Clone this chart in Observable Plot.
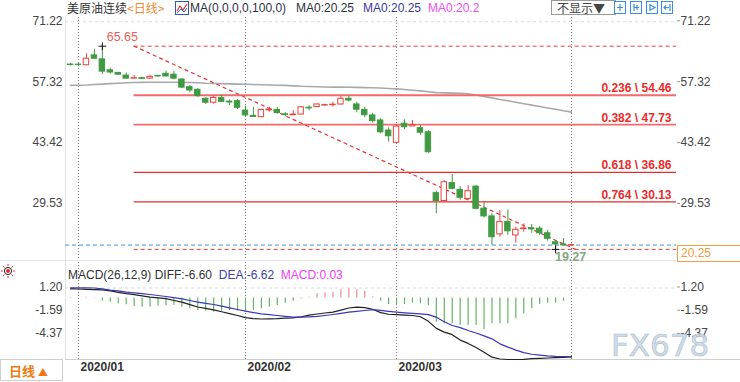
<!DOCTYPE html>
<html><head><meta charset="utf-8">
<script src="https://cdn.jsdelivr.net/npm/d3@7"></script>
<script src="https://cdn.jsdelivr.net/npm/@observablehq/plot@0.6"></script>
<style>
body{margin:0;background:#fff;}
#wrap{position:relative;width:740px;height:382px;overflow:hidden;font-family:"Liberation Sans",Arial,"Noto Sans CJK SC",sans-serif;color:#333;}
#wrap svg.plot{position:absolute;left:0;}
.t{position:absolute;font-size:12px;white-space:nowrap;line-height:14px;top:1px;}
.ln{position:absolute;background:#d8d8d8;}
</style></head><body><div id="wrap">
<span class="t" style="left:67px;font-family:'Noto Sans CJK SC';color:#333">美原油连续</span>
<span class="t" style="left:127px;font-family:'Noto Sans CJK SC';color:#f08a2c">&lt;日线&gt;</span>
<svg style="position:absolute;left:175px;top:1px" width="14" height="14"><rect x="0.5" y="0.5" width="13" height="13" fill="#fff" stroke="#3355aa"/><polyline points="2,10 5,5 8,9 12,3" fill="none" stroke="#d33" stroke-width="1.2"/><polyline points="2,12 6,8 9,11 12,7" fill="none" stroke="#36c" stroke-width="1"/></svg>
<span class="t" style="left:190px;color:#2f2f3f">MA(0,0,0,0,100,0)</span>
<span class="t" style="left:296px;color:#2f2f3f">MA0:20.25</span>
<span class="t" style="left:363px;color:#3a3a9a">MA0:20.25</span>
<span class="t" style="left:428px;color:#f050f0">MA0:20.2</span>
<div style="position:absolute;left:551px;top:0px;width:58px;height:13px;border:1px solid #999;font-size:12px;line-height:13px;font-family:'Noto Sans CJK SC';color:#444;padding-left:5px;box-sizing:content-box">不显示▼</div>
<svg style="position:absolute;left:613px;top:1px" width="63" height="14">
 <g fill="#fff" stroke="#3a8ee6"><rect x="1.5" y="0.5" width="11" height="12"/><rect x="17.5" y="0.5" width="11" height="12"/><rect x="33.5" y="0.5" width="11" height="12"/><rect x="48.5" y="0.5" width="11" height="12"/></g>
 <g stroke="#3a8ee6" stroke-width="1.2" fill="none"><path d="M7 3v7M4 6.5h6"/><path d="M21 3v7M21 6.5h5M24 4v5"/><path d="M37 3v7M37 4l5 2.5l-5 2.5"/><path d="M57 3v7M51 6.5h5M53 4.5l-2 2l2 2"/></g>
</svg>
<div class="ln" style="left:65px;top:17px;width:1px;height:342px;background:#e2e2e2"></div>
<div class="ln" style="left:0px;top:260px;width:676px;height:1px;background:#e4e4e4"></div>
<div class="ln" style="left:65px;top:359px;width:675px;height:1px;background:#cfcfcf"></div>
<svg style="position:absolute;left:1px;top:264px" width="16" height="14"><g stroke="#e33" stroke-width="1"><path d="M7 0v2M7 12v2M0 7h2M12 7h2M2 2l1.5 1.5M12 2l-1.5 1.5M2 12l1.5-1.5M12 12l-1.5-1.5"/></g><circle cx="7" cy="7" r="3.6" fill="#fff" stroke="#222"/><circle cx="7" cy="7" r="2" fill="#e22"/></svg>
<div style="position:absolute;left:0;top:359px;width:63px;height:22px;border:1px solid #cfcfcf;font-family:'Noto Sans CJK SC';font-size:13px;line-height:21px;color:#f07a10;padding-left:8px;box-sizing:border-box;font-weight:bold">日线 <span style="font-size:10px">▲</span></div>
<div id="c"></div>
<div style="position:absolute;left:677px;top:245px;width:63px;height:17px;border:1px solid #f5a040;border-right:none;box-sizing:border-box;font-size:12px;line-height:15px;color:#f39a3c;padding-left:3px;background:#fff">20.25</div>
<div style="position:absolute;left:611px;top:325px;font-family:'DejaVu Sans';font-size:31px;letter-spacing:0px;color:rgba(200,215,232,0.9);-webkit-text-stroke:0.6px #aebdce;line-height:40px">FX678</div>
</div>
<script>
// ---------- data ----------
const monthIdx = [1, 22, 41, 63];
const monthLabels = ["2020/01", "2020/02", "2020/03"];
const priceTicks = [71.22, 57.32, 43.42, 29.53];
const macdTicks = [1.20, -1.59, -4.37];
const open  = [61.45,61.45,61.3,63.55,62.65,60.15,59.55,58.95,58.25,58.35,58.25,58.85,59.35,59.15,58.05,56.3,55.7,53.65,52.75,53.8,53.0,53.1,50.95,49.75,49.45,51.0,51.1,50.1,49.9,50.05,51.6,51.75,52.1,52.2,52.35,53.65,52.35,51.1,49.85,48.7,46.4,43.6,47.95,47.35,46.95,46.0,32.1,30.3,34.4,32.85,30.8,33.6,28.55,26.8,22.7,25.5,22.45,23.9,24.1,24.0,22.95,20.9,20.4,20.15];
const high  = [61.75,61.7,63.9,64.95,65.65,60.65,59.7,59.55,58.95,58.6,59.05,59.05,59.95,59.95,58.2,56.7,55.95,53.9,54.25,54.55,53.4,53.5,51.95,51.7,51.3,51.75,51.65,50.5,50.95,51.9,52.1,52.5,52.4,52.85,54.15,54.15,52.85,51.7,50.35,49.1,47.0,47.75,48.85,48.7,47.55,46.4,32.55,35.0,36.35,33.6,33.85,33.85,30.05,27.4,28.15,28.3,24.35,25.1,24.95,24.5,23.6,21.3,21.75,20.5];
const low   = [61.15,61.1,61.2,62.65,59.2,59.25,58.95,58.15,58.15,58.0,58.05,58.55,58.6,57.95,55.95,55.0,53.95,52.35,52.4,52.8,52.1,51.2,49.6,49.4,49.3,50.6,50.1,49.5,49.8,49.9,50.9,51.6,51.95,51.75,52.2,52.9,50.45,49.3,48.1,45.65,43.75,43.35,46.6,47.3,45.3,41.2,27.4,30.1,32.85,30.45,30.45,28.3,26.45,20.2,22.05,22.45,20.7,23.2,22.95,22.45,21.15,19.27,20.05,19.95];
const close = [61.35,61.35,62.8,62.8,59.85,59.65,59.15,58.25,58.35,58.2,58.65,58.75,58.75,58.25,56.2,55.55,54.25,52.75,53.85,52.95,52.8,51.6,49.85,49.5,51.1,51.2,50.4,49.95,50.05,51.7,51.45,52.35,52.2,52.3,53.65,53.25,51.15,49.9,48.55,46.0,45.1,47.3,47.15,47.65,45.9,41.45,30.3,34.6,33.1,31.05,32.55,28.55,26.8,22.05,25.5,23.4,23.75,24.05,23.85,22.95,21.7,20.4,20.2,20.25];
const ma100 = [56.7,56.75,56.8,56.9,57.0,57.1,57.2,57.3,57.35,57.4,57.42,57.43,57.43,57.42,57.4,57.35,57.3,57.2,57.15,57.1,57.05,57.0,56.95,56.9,56.85,56.8,56.75,56.7,56.6,56.5,56.45,56.4,56.35,56.3,56.3,56.28,56.25,56.2,56.15,56.1,56.0,55.9,55.75,55.6,55.45,55.25,55.05,55.0,54.95,54.9,54.8,54.5,54.2,53.85,53.5,53.2,52.85,52.5,52.2,51.9,51.55,51.25,50.9,50.6];
const fibRatios = ["0.236", "0.382", "0.618", "0.764"];
const fibValues = [54.46, 47.73, 36.86, 30.13];
const fibEnds = [65.65, 19.27];
const fibStartIdx = 8;
const fibStopIdx = 76.2;   // right edge of the plot frame, in bar units
const trendIdx = [8, 63.5];
const trendVal = [65.65, 19.27];
const highMark = {i: 4, v: 65.65};
const lowMark = {i: 61, v: 19.27};
const lastPrice = 20.25;
const diff = [1.10,1.08,1.04,1.00,0.98,0.85,0.68,0.52,0.40,0.25,0.10,0.02,-0.08,-0.30,-0.50,-0.80,-1.08,-1.25,-1.42,-1.65,-1.88,-2.10,-2.35,-2.48,-2.52,-2.50,-2.48,-2.42,-2.38,-2.25,-2.05,-1.92,-1.80,-1.70,-1.45,-1.20,-1.10,-1.15,-1.35,-1.75,-1.95,-2.00,-2.05,-2.10,-2.25,-2.80,-3.65,-4.10,-4.40,-5.05,-5.45,-5.95,-6.50,-7.10,-7.32,-7.38,-7.38,-7.36,-7.28,-7.24,-7.20,-7.16,-7.12,-7.08];
const dea  = [1.22,1.22,1.22,1.20,1.10,0.95,0.85,0.70,0.62,0.52,0.42,0.30,0.18,0.05,-0.10,-0.30,-0.50,-0.65,-0.78,-0.98,-1.18,-1.38,-1.58,-1.75,-1.90,-2.00,-2.10,-2.20,-2.30,-2.30,-2.26,-2.20,-2.10,-1.98,-1.85,-1.70,-1.60,-1.50,-1.40,-1.48,-1.60,-1.70,-1.78,-1.85,-1.90,-2.00,-2.30,-2.85,-3.30,-3.55,-3.90,-4.20,-4.55,-4.90,-5.50,-5.90,-6.25,-6.55,-6.75,-6.85,-6.95,-7.00,-7.02,-7.04];
const hist = [0.08,0.02,0.08,0.06,-0.38,-0.5,-0.7,-0.82,-1.02,-1.1,-1.1,-1.0,-0.94,-0.9,-1.1,-1.3,-1.5,-1.58,-1.7,-1.58,-1.5,-1.58,-1.7,-1.5,-1.3,-1.1,-0.9,-0.62,-0.38,-0.1,0.1,0.5,0.6,0.7,0.98,1.1,0.98,0.82,0.12,-0.38,-0.78,-0.8,-0.78,-0.62,-0.7,-0.9,-2.9,-3.1,-3.1,-3.3,-3.3,-3.3,-3.78,-3.1,-3.1,-3.1,-2.5,-1.9,-1.3,-0.78,-0.62,-0.62,-0.38,0.03];

// ---------- tables ----------
const RED = "#e8423c", GREEN = "#3f9a42", FIB = "#ea2a2a";
const candles = open.map((o, i) => ({i, o, h: high[i], l: low[i], c: close[i], up: close[i] >= o}));
const maRows = ma100.map((v, i) => ({i, v}));
const fibs = fibValues.map((v, k) => ({v, r: fibRatios[k], s: fibStartIdx, e: fibStopIdx}));
const fibDash = fibEnds.map(v => ({v, s: fibStartIdx, e: fibStopIdx}));
const trend = trendIdx.map((i, k) => ({i, v: trendVal[k]}));
const months = monthLabels.map((label, k) => ({i: monthIdx[k], label}));
const macdRows = hist.map((h, i) => ({i, h, d: diff[i], e: dea[i]}));
const FONT = "Liberation Sans, Arial, Noto Sans CJK SC, sans-serif";
const xScale = {domain: [1, 63], range: [78, 571], axis: null};

const price = Plot.plot({
  width: 740, height: 260, marginLeft: 65, marginRight: 64, marginTop: 17, marginBottom: 2,
  x: xScale,
  y: {domain: [19.27, 65.65], range: [248.9, 45.7]},
  style: {fontFamily: FONT, fontSize: "12px", background: "none", overflow: "visible"},
  marks: [
    Plot.ruleY([priceTicks[0]], {stroke: "#d9d9d9", strokeDasharray: "3,3"}),
    Plot.ruleX(monthIdx, {stroke: "#7a7a7a", strokeDasharray: "1,2"}),
    Plot.line(maRows, {x: "i", y: "v", stroke: "#a9a9a9", strokeWidth: 1.6}),
    Plot.ruleY(fibs, {y: "v", x1: "s", x2: "e", stroke: (d, k) => k < 2 ? "#f26a6a" : FIB, strokeWidth: (d, k) => k < 2 ? 1.8 : 1.2}),
    Plot.ruleY(fibDash, {y: "v", x1: "s", x2: "e", stroke: "#f03c3c", strokeDasharray: "4,3"}),
    Plot.line(trend, {x: "i", y: "v", stroke: "#e83434", strokeWidth: 1.2, strokeDasharray: "3,4"}),
    Plot.ruleY([lastPrice], {stroke: "#3d95e8", strokeDasharray: "4,3"}),
    Plot.ruleX(candles, {x: "i", y1: "l", y2: "h", stroke: d => d.up ? RED : GREEN, strokeWidth: 1}),
    Plot.rect(candles, {x1: d => d.i - 0.34, x2: d => d.i + 0.34, y1: "o", y2: "c",
      fill: d => d.up ? "#fff" : GREEN, stroke: d => d.up ? RED : GREEN, strokeWidth: 1}),
    Plot.dot([highMark, lowMark], {x: "i", y: "v", symbol: "plus", r: 2.6, stroke: "#111", strokeWidth: 1}),
    Plot.text([highMark], {x: "i", y: "v", text: d => d.v.toFixed(2), dx: 20, dy: -9, fill: "#ef5d5d", fontSize: 12.5}),
    Plot.text([lowMark], {x: "i", y: "v", text: d => d.v.toFixed(2), dx: 15, dy: 8, fill: "#82a882", fontSize: 12.5, fontWeight: "bold"}),
    Plot.text(fibs, {y: "v", frameAnchor: "right", dx: -5, dy: -7, textAnchor: "end",
      text: d => `${d.r} \\ ${d.v.toFixed(2)}`, fill: FIB, fontWeight: "bold", fontSize: 12}),
    Plot.axisY(priceTicks, {anchor: "left", tickSize: 0, tickPadding: 3, tickFormat: d => d.toFixed(2), color: "#444", fontSize: 12, label: null, dy: -1}),
    Plot.axisY(priceTicks, {anchor: "right", tickSize: 3, tickPadding: 1, tickFormat: d => d.toFixed(2), color: "#444", stroke: "#999", fontSize: 12, label: null, dy: -1})
  ]
});
price.classList.add("plot");
price.style.top = "0px";

const macd = Plot.plot({
  width: 740, height: 122, marginLeft: 65, marginRight: 64, marginTop: 2, marginBottom: 23,
  x: xScale,
  y: {domain: [0, 1.2], range: [37.5, 27.5]},
  style: {fontFamily: FONT, fontSize: "12px", background: "none", overflow: "visible"},
  marks: [
    Plot.ruleY([macdTicks[0]], {stroke: "#d9d9d9", strokeDasharray: "3,3"}),
    Plot.ruleX(monthIdx, {stroke: "#7a7a7a", strokeDasharray: "1,2"}),
    Plot.ruleX(macdRows, {x: "i", y1: 0, y2: "h", stroke: d => d.h >= 0 ? "#ee8a8a" : "#62b562", strokeWidth: 1.2}),
    Plot.line(macdRows, {x: "i", y: "d", stroke: "#222", strokeWidth: 1.2}),
    Plot.line(macdRows, {x: "i", y: "e", stroke: "#3838b8", strokeWidth: 1.2}),
    Plot.axisY(macdTicks, {anchor: "left", tickSize: 0, tickPadding: 3, tickFormat: d => d.toFixed(2), color: "#444", fontSize: 12, label: null, dy: -1}),
    Plot.axisY(macdTicks, {anchor: "right", tickSize: 3, tickPadding: 1, tickFormat: d => d.toFixed(2), color: "#444", stroke: "#999", fontSize: 12, label: null, dy: -1}),
    Plot.text(months, {x: "i", text: "label", frameAnchor: "bottom", dy: 11, dx: 2, textAnchor: "start", fill: "#333", fontWeight: "bold", fontSize: 12})
  ]
});
macd.classList.add("plot");
macd.style.top = "260px";

const c = document.getElementById("c");
c.appendChild(price);
c.appendChild(macd);
</script>
<div style="position:absolute;left:68px;top:268px;font-size:12px;line-height:14px;white-space:nowrap;font-family:'Liberation Sans',Arial,sans-serif">
<span style="color:#333">MACD(26,12,9) DIFF:-6.60</span>&nbsp;&nbsp;<span style="color:#4040a8">DEA:-6.62</span>&nbsp;&nbsp;<span style="color:#f040f0">MACD:0.03</span></div>
</body></html>
